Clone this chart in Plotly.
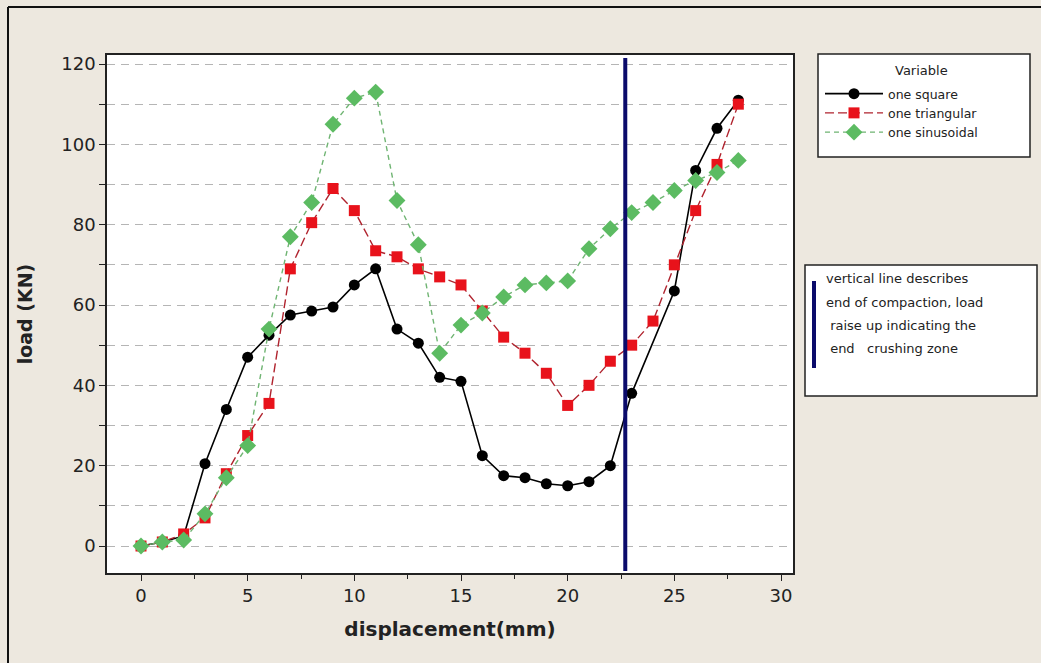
import plotly.graph_objects as go

# ---------------- data ----------------
x_square = [0, 1, 2, 3, 4, 5, 6, 7, 8, 9, 10, 11, 12, 13, 14, 15, 16, 17, 18, 19, 20, 21, 22, 23, 25, 26, 27, 28]
y_square = [0, 1, 2.5, 20.5, 34, 47, 52.5, 57.5, 58.5, 59.5, 65, 69, 54, 50.5, 42, 41, 22.5, 17.5, 17, 15.5, 15, 16, 20, 38, 63.5, 93.5, 104, 111]

x_tri = [0, 1, 2, 3, 4, 5, 6, 7, 8, 9, 10, 11, 12, 13, 14, 15, 16, 17, 18, 19, 20, 21, 22, 23, 24, 25, 26, 27, 28]
y_tri = [0, 1, 3, 7, 18, 27.5, 35.5, 69, 80.5, 89, 83.5, 73.5, 72, 69, 67, 65, 58.5, 52, 48, 43, 35, 40, 46, 50, 56, 70, 83.5, 95, 110]

x_sin = [0, 1, 2, 3, 4, 5, 6, 7, 8, 9, 10, 11, 12, 13, 14, 15, 16, 17, 18, 19, 20, 21, 22, 23, 24, 25, 26, 27, 28]
y_sin = [0, 1, 1.5, 8, 17, 25, 54, 77, 85.5, 105, 111.5, 113, 86, 75, 48, 55, 58, 62, 65, 65.5, 66, 74, 79, 83, 85.5, 88.5, 91, 93, 96]

compaction_end = 22.7
x_ticks = [0, 5, 10, 15, 20, 25, 30]
y_ticks = [0, 20, 40, 60, 80, 100, 120]
legend_title = "Variable"
note_lines = ["vertical line describes",
              "end of compaction, load",
              "\u00a0raise up indicating the",
              "\u00a0end \u00a0\u00a0crushing zone"]

# ---------------- layout geometry (pixels) ----------------
W, H = 1041, 663
L, R, T, B = 107, 793, 55, 573
pw, ph = R - L, B - T


def px(xp):
    return (xp - L) / pw


def py(yp):
    return (B - yp) / ph


FONT = "DejaVu Sans"

fig = go.Figure()
fig.add_trace(go.Scatter(
    x=x_square, y=y_square, mode="lines+markers", name="one square",
    line=dict(color="#000000", width=1.6),
    marker=dict(symbol="circle", size=11, color="#000000")))
fig.add_trace(go.Scatter(
    x=x_tri, y=y_tri, mode="lines+markers", name="one triangular",
    line=dict(color="#b0232e", width=1.4, dash="9px,4px"),
    marker=dict(symbol="square", size=11, color="#e8121b")))
fig.add_trace(go.Scatter(
    x=x_sin, y=y_sin, mode="lines+markers", name="one sinusoidal",
    line=dict(color="#6fb472", width=1.4, dash="5px,4px"),
    marker=dict(symbol="diamond", size=13, color="#5cbb62")))

shapes = []
# vertical compaction line
shapes.append(dict(type="line", xref="x", yref="paper", x0=compaction_end, x1=compaction_end,
                   y0=0.004, y1=0.994, line=dict(color="#0b0b6b", width=4)))
# outer frame (left & top)
shapes.append(dict(type="line", xref="paper", yref="paper", x0=px(8), x1=px(8),
                   y0=py(7), y1=py(700), line=dict(color="#111111", width=2)))
shapes.append(dict(type="line", xref="paper", yref="paper", x0=px(8), x1=px(1100),
                   y0=py(7), y1=py(7), line=dict(color="#111111", width=2)))
# legend box
shapes.append(dict(type="rect", xref="paper", yref="paper", x0=px(818), x1=px(1030),
                   y0=py(157), y1=py(54), fillcolor="white", line=dict(color="#222222", width=1.5),
                   layer="below"))
# note box
shapes.append(dict(type="rect", xref="paper", yref="paper", x0=px(805), x1=px(1037),
                   y0=py(396), y1=py(265), fillcolor="white", line=dict(color="#222222", width=1.5),
                   layer="below"))
shapes.append(dict(type="line", xref="paper", yref="paper", x0=px(814), x1=px(814),
                   y0=py(368), y1=py(281), line=dict(color="#0b0b6b", width=4)))

annotations = []
annotations.append(dict(text=legend_title, xref="paper", yref="paper", x=px(921), y=py(70),
                        xanchor="center", yanchor="middle", showarrow=False,
                        font=dict(family=FONT, size=13, color="#222222")))
line_y = [278, 302, 325, 348]
for txt, yy in zip(note_lines, line_y):
    annotations.append(dict(text=txt, xref="paper", yref="paper", x=px(824), y=py(yy),
                            xanchor="left", yanchor="middle", showarrow=False,
                            font=dict(family=FONT, size=13, color="#222222")))

fig.update_layout(
    width=W, height=H,
    margin=dict(l=L, r=W - R, t=T, b=H - B),
    paper_bgcolor="#ede8df", plot_bgcolor="white",
    font=dict(family=FONT, color="#222222"),
    shapes=shapes, annotations=annotations,
    showlegend=True,
    legend=dict(
        x=px(820), y=py(79), xanchor="left", yanchor="top",
        bgcolor="rgba(0,0,0,0)", borderwidth=0,
        font=dict(family=FONT, size=12.5, color="#222222"),
        itemwidth=58, tracegroupgap=0,
    ),
)

fig.update_xaxes(
    range=[(L - 141) / (640 / 30), (R - 141) / (640 / 30)],
    tickvals=x_ticks, ticks="outside", ticklen=6, tickcolor="#222222",
    tickfont=dict(family=FONT, size=18, color="#222222"),
    showgrid=False, zeroline=False,
    showline=True, linecolor="#222222", linewidth=1.5, mirror=True,
    minor=dict(dtick=2.5, ticks="outside", ticklen=4, tickcolor="#222222", showgrid=False),
    title=dict(text="<b>displacement(mm)</b>", font=dict(family=FONT, size=20, color="#222222"), standoff=17),
)
fig.update_yaxes(
    range=[(546 - B) / (482 / 120), (546 - T) / (482 / 120)],
    tickvals=y_ticks, ticks="outside", ticklen=6, tickcolor="#222222",
    tickfont=dict(family=FONT, size=18, color="#222222"),
    showgrid=True, gridcolor="#b5b5b5", gridwidth=1, griddash="8px,6px",
    zeroline=False,
    showline=True, linecolor="#222222", linewidth=1.5, mirror=True,
    minor=dict(dtick=10, ticks="outside", ticklen=6, tickcolor="#222222",
               showgrid=True, gridcolor="#b5b5b5", gridwidth=1, griddash="8px,6px"),
    title=dict(text="<b>load (KN)</b>", font=dict(family=FONT, size=19, color="#222222"), standoff=24),
)

fig.write_html("out.html", config={"displayModeBar": False},
               post_script="document.body.style.margin='0px';document.body.style.overflow='hidden';")
